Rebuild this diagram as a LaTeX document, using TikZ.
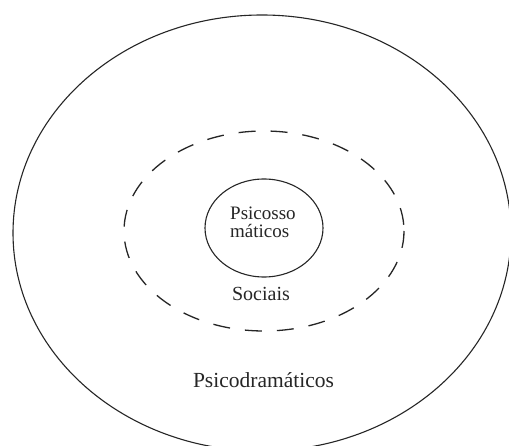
\documentclass[tikz,border=0pt]{standalone}
\usepackage{fontspec}
\setmainfont{Liberation Serif}
\begin{document}
\begin{tikzpicture}[x=1pt,y=-1pt,
  ring/.style={draw=black!85, line width=1.1pt},
  dashring/.style={draw=black!85, line width=1.3pt, dash pattern=on 17pt off 15pt},
  lbl/.style={inner sep=0pt, text=black!85}]
\useasboundingbox (0,0) rectangle (509,446);
\clip (0,0) rectangle (509,446);
\fill[white] (0,0) rectangle (509,446);
\draw[ring] (262,233) ellipse [x radius=249, y radius=218];
\draw[dashring] (264,231) ellipse [x radius=140, y radius=100];
\draw[ring] (264,228) ellipse [x radius=59, y radius=49];
\node[lbl, anchor=base west, font=\fontsize{19}{21}\selectfont] (psi1) at (230,220) {Psicosso};
\node[lbl, anchor=base west, font=\fontsize{19}{21}\selectfont] (psi2) at (230,238) {máticos};
\node[lbl, anchor=base, font=\fontsize{20}{22}\selectfont] (soc) at (261,301) {Sociais};
\node[lbl, anchor=base, font=\fontsize{21.5}{24}\selectfont] (pdr) at (263.5,388) {Psicodramáticos};
\end{tikzpicture}
\end{document}
